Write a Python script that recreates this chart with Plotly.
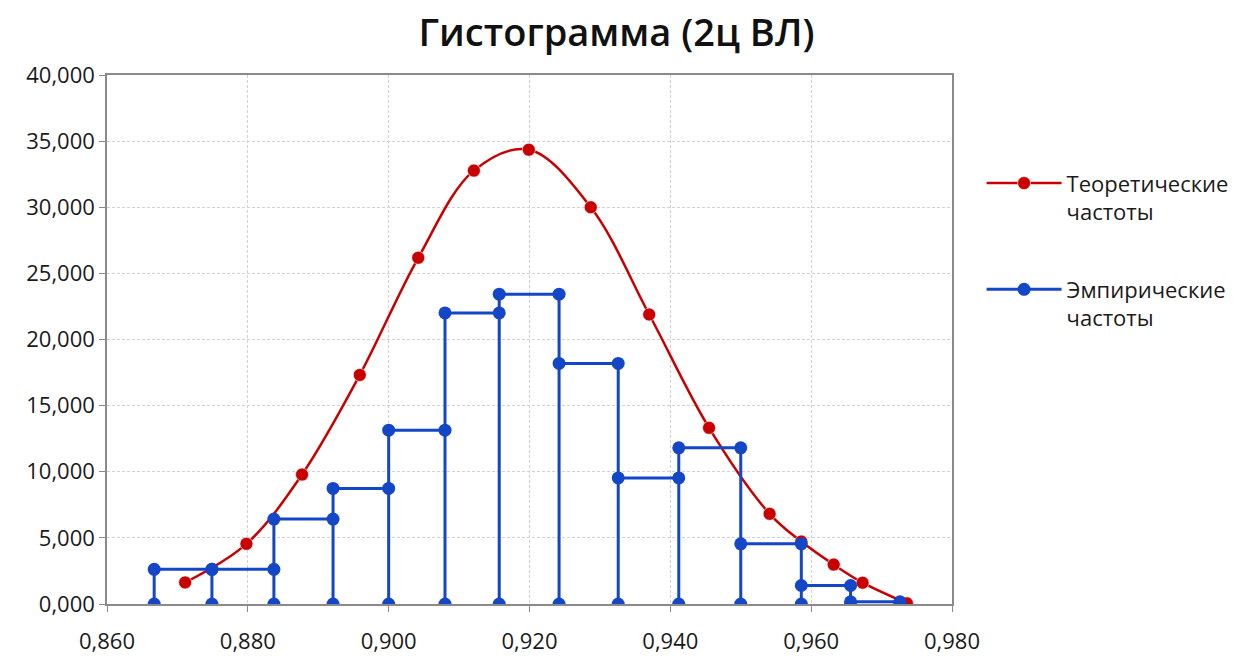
import plotly.graph_objects as go

# Empirical histogram: bin edges and frequencies
bin_edges = [0.8667, 0.8749, 0.8837, 0.8921, 0.9000, 0.9080, 0.9157,
             0.9242, 0.9326, 0.9412, 0.9500, 0.9586, 0.9656, 0.9726]
emp_freq = [2.62, 2.62, 6.42, 8.74, 13.14, 22.01, 23.43,
            18.19, 9.53, 11.81, 4.55, 1.40, 0.17]

# Theoretical frequencies
theo_x = [0.8711, 0.8798, 0.8877, 0.8959, 0.9042, 0.9121, 0.9199, 0.9287,
          0.9370, 0.9455, 0.9541, 0.9586, 0.9632, 0.9673, 0.9736]
theo_y = [1.63, 4.55, 9.79, 17.32, 26.18, 32.77, 34.35, 30.00,
          21.89, 13.32, 6.82, 4.72, 2.98, 1.61, 0.05]

x_ticks = [0.86, 0.88, 0.90, 0.92, 0.94, 0.96, 0.98]
y_ticks = [0, 5, 10, 15, 20, 25, 30, 35, 40]

title_text = "Гистограмма (2ц ВЛ)"
name_theo = "Теоретические<br>частоты"
name_emp = "Эмпирические<br>частоты"

# build step outline of histogram
step_x, step_y = [], []
for i, h in enumerate(emp_freq):
    pts = [(bin_edges[i], 0), (bin_edges[i], h), (bin_edges[i + 1], h), (bin_edges[i + 1], 0)]
    for px, py in pts:
        if step_x and step_x[-1] == px and step_y[-1] == py:
            continue
        step_x.append(px)
        step_y.append(py)

RED = "#c80000"
BLUE = "#1446c8"
FONT = "Open Sans"

fig = go.Figure()
fig.add_trace(go.Scatter(
    x=theo_x, y=theo_y, mode="lines+markers", name=name_theo,
    line=dict(color=RED, width=2.5, shape="spline", smoothing=1.0),
    marker=dict(color=RED, size=13, line=dict(color="rgba(255,255,255,0.6)", width=1)),
    legendgroup="a",
))
fig.add_trace(go.Scatter(
    x=step_x, y=step_y, mode="lines+markers", name=name_emp,
    line=dict(color=BLUE, width=3),
    marker=dict(color=BLUE, size=13),
    legendgroup="b",
))

axis_common = dict(
    showgrid=True, gridcolor="#d2d2d2", gridwidth=1, griddash="3px,2px",
    showline=True, linecolor="#8a8a8a", linewidth=1.5, mirror=True,
    ticks="outside", ticklen=6, tickcolor="#8a8a8a",
    tickfont=dict(family=FONT, size=22, color="#1a1a1a"),
    zeroline=False, automargin=False,
)

fig.update_xaxes(range=[0.86, 0.98], tickvals=x_ticks, tickformat=".3f",
                 ticklabelstandoff=11, **axis_common)
fig.update_yaxes(range=[0, 40], tickvals=y_ticks, tickformat=".3f", **axis_common)

fig.update_layout(
    width=1248, height=659,
    margin=dict(l=107, r=296, t=75, b=55),
    paper_bgcolor="white", plot_bgcolor="white",
    separators=", ",
    title=dict(text=title_text, x=0.494, xanchor="center",
               y=1 - 33 / 659, yanchor="middle",
               font=dict(family=FONT, size=38, color="#111111", weight=600)),
    showlegend=True,
    legend=dict(x=1.035, xanchor="left", y=0.835, yanchor="top",
                font=dict(family=FONT, size=22, color="#1a1a1a"),
                valign="top", tracegroupgap=46, itemwidth=75,
                bgcolor="rgba(0,0,0,0)"),
)

fig.write_html("out.html")
